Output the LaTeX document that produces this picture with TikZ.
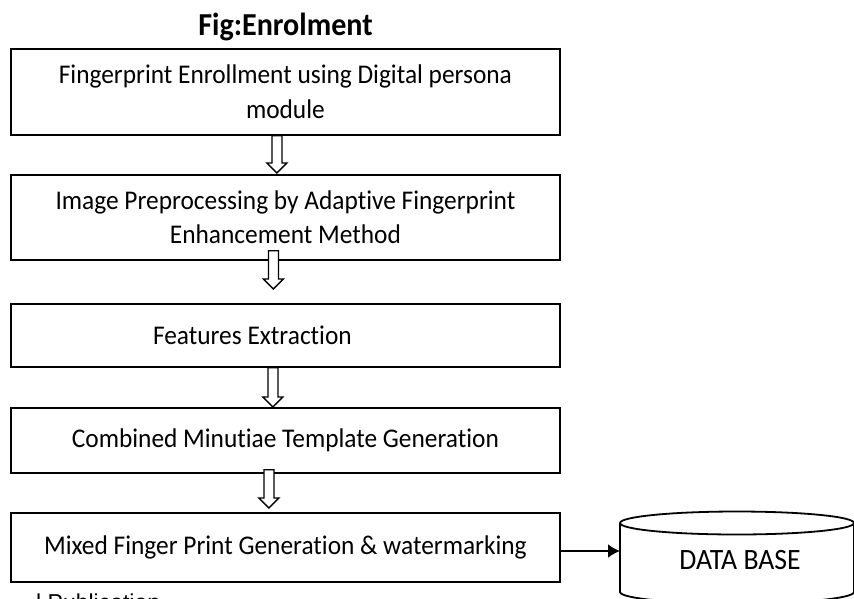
\documentclass[tikz,border=0pt]{standalone}
\usepackage{fontspec}
\setmainfont{Carlito}[Ligatures=NoCommon, FakeStretch=0.94]
\newfontfamily\footerfont{Liberation Sans}
\usetikzlibrary{calc,arrows.meta}
\begin{document}
\begin{tikzpicture}[x=1pt,y=-1pt,
  bodytext/.style={font=\fontsize{27}{34.5}\selectfont},
  stage/.style={draw, line width=1.8pt, anchor=north west, minimum width=549pt,
    inner sep=0pt, align=center, bodytext},
  hollowarrow/.style={draw, fill=white, line width=1.3pt, line join=miter,
    to path={let \p1=(\tikztostart), \p2=(\tikztotarget) in
      (\x1-5pt,\y1) -- (\x1-5pt,\y2+10pt) -- (\x1-10pt,\y2+10pt) -- (\x1,\y2)
      -- (\x1+10pt,\y2+10pt) -- (\x1+5pt,\y2+10pt) -- (\x1+5pt,\y1) -- cycle}},
  solidarrow/.style={line width=2.2pt, -{Latex[length=12pt,width=14pt]}},
  dbline/.style={line width=1.8pt}
]
\useasboundingbox (0,0) rectangle (854,598);
\clip (0,0) rectangle (854,598);

% title
\node[font=\fontsize{32}{36}\selectfont\bfseries, anchor=base, inner sep=0pt] (title) at (285.5,35) {Fig:Enrolment};

% process stages
\node[stage, minimum height=86pt] (b1) at (10,48)
  {Fingerprint Enrollment using Digital persona\\module};
\node[stage, minimum height=85pt] (b2) at (10,174)
  {Image Preprocessing by Adaptive Fingerprint\\Enhancement Method};
\node[stage, minimum height=63pt] (b3) at (10,303)
  {\hspace*{-66pt}Features Extraction};
\node[stage, minimum height=65pt] (b4) at (10,407)
  {Combined Minutiae Template Generation};
\node[stage, minimum height=69pt] (b5) at (10,512)
  {Mixed Finger Print Generation \& watermarking};

% hollow block arrows between stages
\draw[hollowarrow] ($(b1.south)+(-8.5,0)$) to ($(b2.north)+(-8.5,-1)$);
\draw[hollowarrow] ($(b2.south)+(-12,-10)$) to ($(b3.north)+(-12,-14)$);
\draw[hollowarrow] ($(b3.south)+(-12.5,0)$) to ($(b4.north)+(-12.5,0)$);
\draw[hollowarrow] ($(b4.south)+(-16.5,-4)$) to ($(b5.north)+(-16.5,-4)$);

% database cylinder
\draw[dbline] (620,523) -- (620,592) arc[start angle=180, end angle=0, x radius=117, y radius=11.5] -- (854,523);
\draw[dbline, fill=white] (737,523) ellipse [x radius=117, y radius=11.5];
\node[font=\fontsize{29.5}{34}\selectfont] (db) at (740,560) {DATA BASE};
\coordinate (dbin) at (620,551);

\draw[solidarrow] (b5.east |- dbin) -- (dbin);

% running footer text, cut by the page edge
\node[font=\fontsize{23}{26}\footerfont, anchor=base west, inner sep=0pt] (pub) at (36,610) {l Publication};
\end{tikzpicture}
\end{document}
